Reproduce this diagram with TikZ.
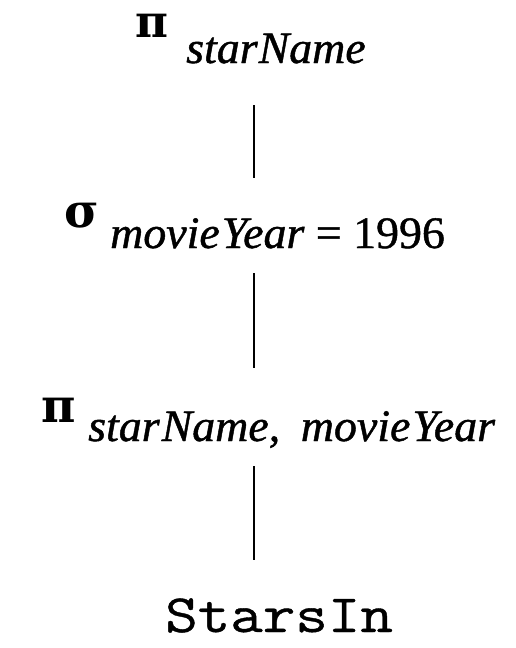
\documentclass[tikz,border=0pt]{standalone}
\usepackage{fontspec}
\setmainfont{Liberation Serif}[FakeBold=1]
\newfontfamily\greekfont{DejaVu Serif}
\newfontfamily\relfont{Latin Modern Mono}[FakeBold=0.7]
\usepackage{graphicx}
\newcommand\wide[1]{\scalebox{1.02}[1]{#1}}
\newcommand\widett[1]{\scalebox{1.17}[1]{#1}}
\begin{document}
\begin{tikzpicture}[x=1pt,y=-1pt,
  lbl/.style={inner sep=0pt, anchor=base west},
  greek/.style={lbl, font=\fontsize{47}{47}\selectfont\greekfont\bfseries},
  subs/.style={lbl, font=\fontsize{45}{45}\selectfont},
  rel/.style={lbl, font=\fontsize{54}{54}\selectfont\relfont},
  edge/.style={line width=2.8pt}]
\useasboundingbox (0,0) rectangle (515,648);
\coordinate (ax) at (254,0);
% level 1
\node[greek, font=\fontsize{45}{45}\selectfont\greekfont\bfseries] (p1) at (135,37) {π};
\node[subs] (n1) at (186,63) {\wide{\itshape star\kern1pt Name}};
% level 2
\node[greek] (sg) at (64,227) {σ};
\node[subs] (c1) at (110,248) {\wide{\itshape movie\kern2pt Year\upshape\ = 1996}};
% level 3
\node[greek] (p2) at (41,422) {π};
\node[subs] (n3) at (88,441) {\wide{\itshape star\kern2pt Name,\hspace{0.45em}movie\kern2pt Year}};
% level 4
\node[rel] (r) at (165,632) {\widett{StarsIn}};
% connectors
\draw[edge, shorten <=42pt, shorten >=70pt] (n1.base -| ax) -- (c1.base -| ax);
\draw[edge, shorten <=25pt, shorten >=73pt] (c1.base -| ax) -- (n3.base -| ax);
\draw[edge, shorten <=25pt, shorten >=72pt] (n3.base -| ax) -- (r.base -| ax);
\end{tikzpicture}
\end{document}
